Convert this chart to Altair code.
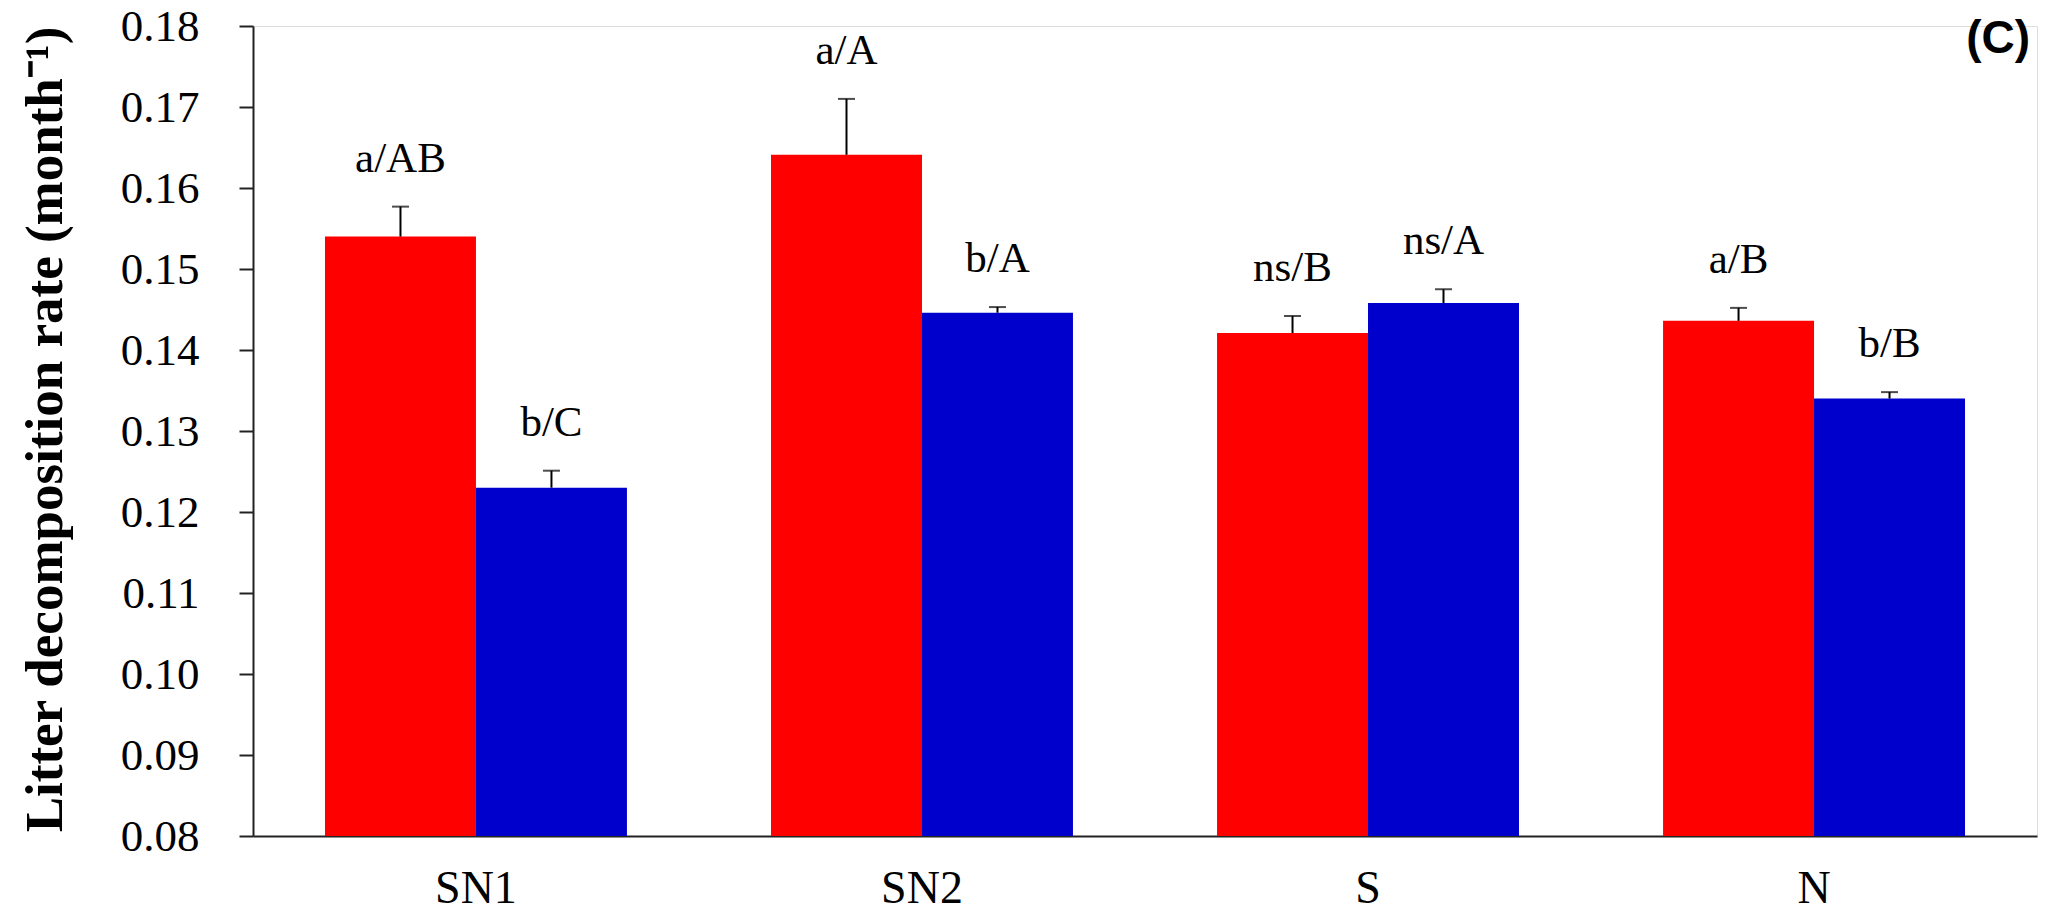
import altair as alt
import pandas as pd

categories = ["SN1", "SN2", "S", "N"]
series = ["Red", "Blue"]
red_values = [0.1540, 0.1641, 0.1421, 0.1436]
red_errors = [0.0037, 0.0069, 0.0021, 0.0016]
red_labels = ["a/AB", "a/A", "ns/B", "a/B"]
blue_values = [0.1230, 0.1446, 0.1458, 0.1340]
blue_errors = [0.0021, 0.0007, 0.0017, 0.0008]
blue_labels = ["b/C", "b/A", "ns/A", "b/B"]
y_ticks = [0.08, 0.09, 0.10, 0.11, 0.12, 0.13, 0.14, 0.15, 0.16, 0.17, 0.18]

rows = []
for i, c in enumerate(categories):
    rows.append({"cat": c, "series": "Red", "value": red_values[i],
                 "top": red_values[i] + red_errors[i], "label": red_labels[i]})
    rows.append({"cat": c, "series": "Blue", "value": blue_values[i],
                 "top": blue_values[i] + blue_errors[i], "label": blue_labels[i]})
df = pd.DataFrame(rows)

serif = "Liberation Serif"
x_enc = alt.X("cat:N", sort=categories,
              scale=alt.Scale(paddingInner=0.323, paddingOuter=0.1614),
              axis=alt.Axis(title=None, labelAngle=0, labelFont=serif, labelFontSize=46,
                            labelColor="black", ticks=False, tickSize=0, labelPadding=30,
                            domainColor="#222", domainWidth=2))
xo = alt.XOffset("series:N", sort=series, scale=alt.Scale(paddingInner=0, paddingOuter=0))
y_scale = alt.Scale(domain=[0.08, 0.18], zero=False, nice=False)

base = alt.Chart(df)

bars = base.mark_bar().encode(
    x=x_enc, xOffset=xo,
    y=alt.Y("value:Q", scale=y_scale,
            axis=alt.Axis(title="Litter decomposition rate (month⁻¹)", values=y_ticks, format=".2f",
                          grid=False, labelFont=serif, labelFontSize=45, labelColor="black",
                          labelPadding=40, tickSize=14, tickWidth=2, tickColor="#222",
                          domainColor="#222", domainWidth=2,
                          titleFont=serif, titleFontWeight="bold", titleFontSize=53,
                          titleColor="black", titleAngle=-90, titleX=-208, titleY=403,
                          titleBaseline="middle", titleAlign="center")),
    y2=alt.datum(0.08),
    color=alt.Color("series:N", sort=series,
                    scale=alt.Scale(domain=series, range=["#FF0000", "#0000CC"]), legend=None),
)

err = base.mark_rule(color="black", strokeWidth=2).encode(
    x=alt.X("cat:N", sort=categories), xOffset=xo,
    y=alt.Y("value:Q", scale=y_scale), y2="top:Q")

caps = base.mark_tick(color="black", thickness=2, size=17, orient="horizontal").encode(
    x=alt.X("cat:N", sort=categories), xOffset=xo,
    y=alt.Y("top:Q", scale=y_scale))

labels = base.mark_text(font=serif, fontSize=43, color="black", baseline="alphabetic",
                        align="center", dy=-35).encode(
    x=alt.X("cat:N", sort=categories), xOffset=xo,
    y=alt.Y("top:Q", scale=y_scale), text="label:N")

panel = alt.Chart(pd.DataFrame({"t": ["(C)"]})).mark_text(
    font="Liberation Sans", fontWeight="bold", fontSize=46, align="right",
    baseline="middle", color="black").encode(
    x=alt.value(1777), y=alt.value(13), text="t:N")

chart = alt.layer(bars, err, caps, labels, panel).properties(
    width=1784, height=810,
    autosize=alt.AutoSizeParams(type="none"),
    padding={"left": 253, "top": 26, "right": 11, "bottom": 85},
).configure_view(stroke=None).configure(background="white")

chart.save("out.html", embed_options={"renderer": "svg", "actions": False})
